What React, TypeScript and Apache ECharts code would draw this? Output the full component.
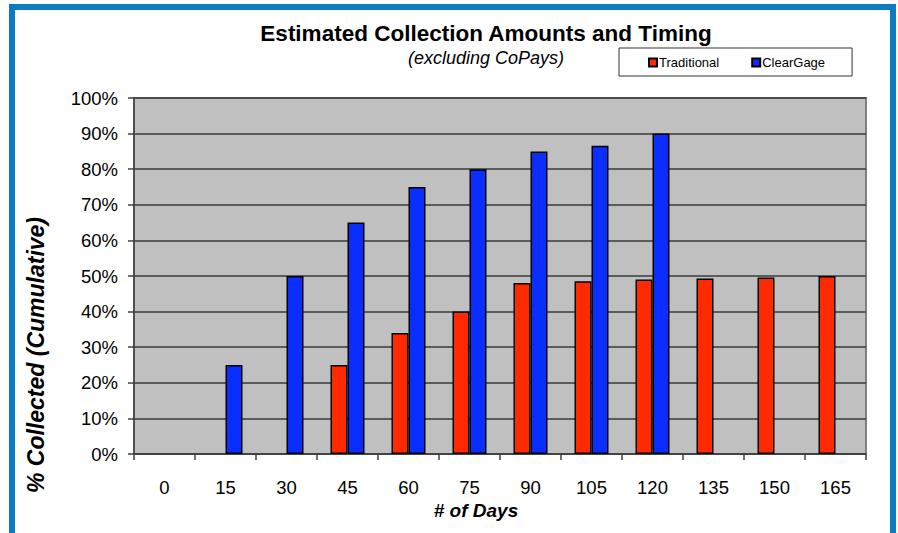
import React, { useEffect, useRef } from "react";
import * as echarts from "echarts";

const days = ["0", "15", "30", "45", "60", "75", "90", "105", "120", "135", "150", "165"];
const traditional = [null, null, null, 25, 34, 40, 48, 48.5, 49, 49.3, 49.6, 50];
const clearGage = [null, 25, 50, 65, 75, 80, 85, 86.6, 90, null, null, null];
const titleText = "Estimated Collection Amounts and Timing";
const subtitleText = "(excluding CoPays)";
const yTitle = "% Collected (Cumulative)";
const xTitle = "# of Days";

const FONT = "Arial, 'Liberation Sans', sans-serif";

export default function App() {
  const ref = useRef<HTMLDivElement>(null);
  useEffect(() => {
    if (!ref.current) return;
    const chart = echarts.init(ref.current, null, { renderer: "svg" });
    chart.setOption({
      animation: false,
      backgroundColor: "#ffffff",
      textStyle: { fontFamily: FONT },
      grid: {
        left: 134,
        right: 32,
        top: 98,
        bottom: 79,
        show: true,
        backgroundColor: "#c0c0c0",
        borderColor: "#808080",
        borderWidth: 2,
      },
      legend: {
        left: 619,
        top: 48,
        padding: [8, 27, 7, 29],
        itemGap: 32,
        itemWidth: 8,
        itemHeight: 8,
        icon: "rect",
        borderColor: "#333333",
        borderWidth: 1,
        backgroundColor: "#ffffff",
        textStyle: { fontFamily: FONT, fontSize: 13, color: "#000", padding: [0, 0, 0, -3] },
        data: ["Traditional", "ClearGage"],
      },
      xAxis: {
        type: "category",
        data: days,
        axisLine: { lineStyle: { color: "#404040", width: 1.5 } },
        axisTick: { show: true, length: 6, alignWithLabel: false, lineStyle: { color: "#404040", width: 1.5 } },
        axisLabel: { fontFamily: FONT, fontSize: 18.5, color: "#000", margin: 24 },
        splitLine: { show: false },
      },
      yAxis: {
        type: "value",
        min: 0,
        max: 100,
        interval: 10,
        axisLine: { show: true, lineStyle: { color: "#404040", width: 1.5 } },
        axisTick: { show: true, length: 6, lineStyle: { color: "#404040", width: 1.5 } },
        axisLabel: { fontFamily: FONT, fontSize: 18.5, color: "#000", margin: 16, formatter: "{value}%" },
        splitLine: { show: true, lineStyle: { color: "#3a3a3a", width: 1.5 } },
      },
      series: [
        {
          name: "Traditional",
          type: "bar",
          data: traditional,
          barWidth: 17,
          barGap: "0%",
          itemStyle: { color: "#ff2a00", borderColor: "#000", borderWidth: 1.5 },
        },
        {
          name: "ClearGage",
          type: "bar",
          data: clearGage,
          barWidth: 17,
          barGap: "0%",
          itemStyle: { color: "#0a2eff", borderColor: "#000", borderWidth: 1.5 },
        },
      ],
      graphic: [
        {
          type: "rect",
          shape: { x: 12, y: 7, width: 881, height: 540 },
          style: { fill: "none", stroke: "#0b7cc4", lineWidth: 6 },
          silent: true,
          z: -1,
        },
        {
          type: "text",
          x: 486,
          y: 33,
          style: {
            text: titleText,
            fontFamily: FONT,
            fontSize: 22.5,
            fontWeight: "bold",
            fill: "#000",
            textAlign: "center",
            textVerticalAlign: "middle",
          },
        },
        {
          type: "text",
          x: 486,
          y: 58,
          style: {
            text: subtitleText,
            fontFamily: FONT,
            fontSize: 18,
            fontStyle: "italic",
            fill: "#000",
            textAlign: "center",
            textVerticalAlign: "middle",
          },
        },
        {
          type: "text",
          x: 36,
          y: 355,
          rotation: Math.PI / 2,
          style: {
            text: yTitle,
            fontFamily: FONT,
            fontSize: 23,
            fontWeight: "bold",
            fontStyle: "italic",
            fill: "#000",
            textAlign: "center",
            textVerticalAlign: "middle",
          },
        },
        {
          type: "text",
          x: 476,
          y: 510,
          style: {
            text: xTitle,
            fontFamily: FONT,
            fontSize: 19,
            fontWeight: "bold",
            fontStyle: "italic",
            fill: "#000",
            textAlign: "center",
            textVerticalAlign: "middle",
          },
        },
      ],
    });
    return () => chart.dispose();
  }, []);
  return (
    <div
      ref={ref}
      style={{ position: "fixed", left: 0, top: 0, width: 898, height: 533 }}
    />
  );
}
